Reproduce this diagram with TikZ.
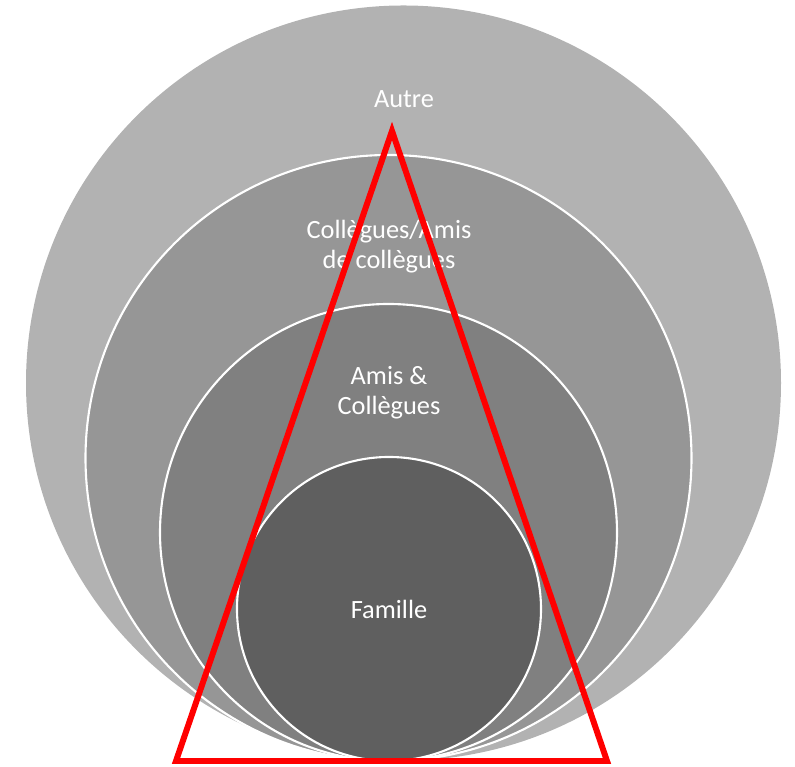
\documentclass[tikz,border=0pt]{standalone}
\usepackage{fontspec}
\setmainfont{Carlito}
\usepackage{tikz}
\usetikzlibrary{calc}

\definecolor{ringA}{RGB}{178,178,178}
\definecolor{ringB}{RGB}{150,150,150}
\definecolor{ringC}{RGB}{128,128,128}
\definecolor{ringD}{RGB}{95,95,95}
\definecolor{pyrred}{RGB}{255,0,0}

\begin{document}
\begin{tikzpicture}[
	ring/.style={circle, draw=white, line width=1.2pt, inner sep=0pt},
	lab/.style={text=white, font=\fontsize{15}{17}\selectfont, align=center},
	]
	\useasboundingbox (0,0) rectangle (15.9,15.34);	%frame
	
	%circles
	\node[ring, fill=ringA, draw=none, minimum size=15.1cm] (autre) at (8.07,7.68) {};		%outer
	\node[ring, fill=ringB, minimum size=12.12cm] (collegues) at (7.77,6.18) {};	%second
	\node[ring, fill=ringC, minimum size=9.14cm] (amis) at (7.77,4.69) {};			%third
	\node[ring, fill=ringD, minimum size=6.08cm] (famille) at (7.78,3.16) {};		%inner
	
	%captions
	\node[lab] (tautre) at (8.08,13.36) {Autre};
	\node[lab] (tcoll) at (7.78,10.4) {Collègues/Amis\\de collègues};
	\node[lab] (tamis) at (7.78,7.49) {Amis \&\\Collègues};
	\node[lab] (tfam) at (7.78,3.16) {Famille};
	
	%triangle
	\coordinate (apex) at (7.84,12.72);
	\coordinate (bl) at (3.52,0.12);
	\coordinate (br) at (12.14,0.12);
	\draw[pyrred, line width=3.4pt, miter limit=10] (apex)--(bl)--(br)--cycle;
\end{tikzpicture}
\end{document}
